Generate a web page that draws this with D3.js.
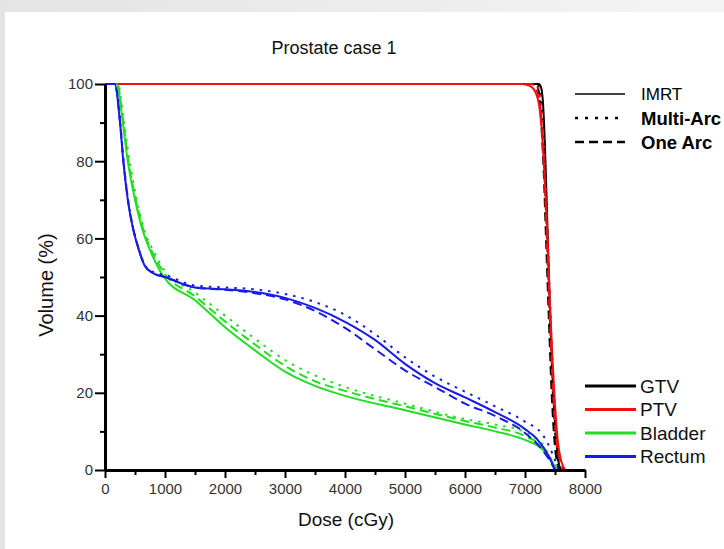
<!DOCTYPE html>
<html>
<head>
<meta charset="utf-8">
<script src="https://cdn.jsdelivr.net/npm/d3@7"></script>
<style>
  body { margin: 0; background: #fff; }
  text { font-family: "Liberation Sans", Arial, sans-serif; }
</style>
</head>
<body>
<script>
const W = 724;
const H = 549;
const PLOT = { left: 105, right: 585, top: 84, bottom: 470 };

// dose (cGy), volume (%)
const gtvImrt = [[0, 100], [7230, 100], [7270, 99], [7300, 95], [7330, 85], [7370, 65], [7420, 40], [7470, 20], [7520, 8], [7560, 2], [7600, 0]];
const gtvMulti = [[0, 100], [7200, 100], [7250, 98], [7290, 92], [7330, 80], [7370, 62], [7420, 38], [7470, 18], [7520, 6], [7570, 1], [7610, 0]];
const gtvOne = [[0, 100], [7180, 100], [7230, 98], [7270, 90], [7310, 78], [7350, 60], [7400, 38], [7450, 18], [7500, 6], [7550, 1], [7590, 0]];

const ptvImrt = [[0, 100], [6950, 100], [7080, 99.5], [7170, 98], [7240, 94], [7290, 86], [7330, 75], [7370, 62], [7410, 45], [7460, 28], [7500, 17], [7550, 7], [7610, 2], [7670, 0]];
const ptvMulti = [[0, 100], [7150, 100], [7220, 99], [7270, 95], [7310, 86], [7350, 72], [7390, 55], [7440, 35], [7490, 18], [7540, 7], [7600, 2], [7650, 0]];
const ptvOne = [[0, 100], [7100, 100], [7190, 98.5], [7250, 94], [7300, 84], [7340, 70], [7380, 53], [7430, 33], [7480, 17], [7530, 7], [7590, 2], [7640, 0]];

const bladderImrt = [[0, 100], [200, 100], [280, 92], [380, 80], [500, 70], [650, 61], [750, 57], [980, 50], [1500, 44], [2000, 37], [2500, 31], [3000, 25.5], [3500, 21.8], [4000, 19.2], [5000, 15.5], [6000, 11.8], [6500, 10], [7000, 7.8], [7300, 5.2], [7450, 2], [7530, 0]];
const bladderMulti = [[0, 100], [215, 100], [300, 92], [400, 81], [530, 70], [680, 61], [800, 57], [1000, 51.5], [1500, 46], [2000, 40], [2500, 34], [3000, 28.5], [3500, 24.5], [4000, 21.5], [5000, 17.2], [6000, 13.2], [6500, 11.8], [7000, 9.8], [7300, 6.5], [7450, 2.5], [7560, 0]];
const bladderOne = [[0, 100], [205, 100], [290, 92], [390, 80], [515, 70], [665, 61], [770, 57], [990, 51], [1500, 45], [2000, 38.5], [2500, 32.5], [3000, 27], [3500, 23], [4000, 20.5], [5000, 16.5], [6000, 12.7], [6500, 11], [7000, 8.8], [7300, 5.8], [7450, 2.2], [7540, 0]];

const rectumImrt = [[0, 100], [160, 100], [250, 90], [305, 80], [380, 70], [460, 63], [545, 58], [660, 53], [800, 51], [1000, 50], [1500, 47.3], [2000, 46.8], [2500, 46.1], [3000, 44.6], [3500, 42], [4000, 38.4], [4500, 33.7], [5000, 27.5], [5500, 22.5], [6000, 18.8], [6500, 15], [7000, 10.6], [7200, 8], [7400, 3.5], [7500, 0]];
const rectumMulti = [[0, 100], [170, 100], [255, 90], [310, 80], [385, 70], [465, 63], [550, 58], [665, 53], [800, 51.3], [1000, 50.5], [1500, 47.8], [2000, 47.3], [2500, 46.8], [3000, 45.6], [3500, 43.5], [4000, 40.2], [4500, 35.2], [5000, 29.2], [5500, 24.2], [6000, 20.3], [6500, 16.5], [7000, 12.5], [7300, 9], [7450, 4.5], [7560, 0]];
const rectumOne = [[0, 100], [165, 100], [252, 90], [307, 80], [382, 70], [462, 63], [547, 58], [662, 53], [800, 51], [1000, 50], [1500, 47.3], [2000, 46.7], [2500, 45.8], [3000, 44.2], [3500, 41.2], [4000, 36.8], [4500, 31.3], [5000, 25.8], [5500, 21.5], [6000, 17.2], [6500, 14], [7000, 9.6], [7300, 5], [7450, 1.5], [7500, 0]];

const xTicks = [0, 1000, 2000, 3000, 4000, 5000, 6000, 7000, 8000];
const yTicks = [0, 20, 40, 60, 80, 100];

const structures = ["GTV", "PTV", "Bladder", "Rectum"];
const structureColors = ["#000000", "#f01010", "#22dd22", "#1a1ae6"];
const plans = ["IMRT", "Multi-Arc", "One Arc"];
const planDash = [null, "2.5,6", "9,5"];

const curves = [
  { s: 0, p: 2, data: gtvOne },
  { s: 0, p: 1, data: gtvMulti },
  { s: 0, p: 0, data: gtvImrt },
  { s: 1, p: 2, data: ptvOne },
  { s: 1, p: 1, data: ptvMulti },
  { s: 1, p: 0, data: ptvImrt },
  { s: 2, p: 2, data: bladderOne },
  { s: 2, p: 1, data: bladderMulti },
  { s: 2, p: 0, data: bladderImrt },
  { s: 3, p: 2, data: rectumOne },
  { s: 3, p: 1, data: rectumMulti },
  { s: 3, p: 0, data: rectumImrt }
];

const svg = d3.select("body").append("svg")
  .attr("width", W)
  .attr("height", H);

// slide frame
const grad = svg.append("defs").append("linearGradient")
  .attr("id", "frame").attr("x1", 0).attr("y1", 0).attr("x2", 1).attr("y2", 0);
grad.append("stop").attr("offset", "0%").attr("stop-color", "#e4e4e4");
grad.append("stop").attr("offset", "100%").attr("stop-color", "#f4f4f4");
svg.append("rect").attr("width", W).attr("height", H).attr("fill", "url(#frame)");
svg.append("rect").attr("x", 5).attr("y", 12).attr("width", W - 5).attr("height", H - 12).attr("fill", "#fff");

const x = d3.scaleLinear().domain([0, 8000]).range([PLOT.left, PLOT.right]);
const y = d3.scaleLinear().domain([0, 100]).range([PLOT.bottom, PLOT.top]);

const line = d3.line()
  .x(d => x(d[0]))
  .y(d => y(d[1]))
  .curve(d3.curveMonotoneX);

svg.append("g")
  .selectAll("path")
  .data(curves)
  .join("path")
  .attr("d", d => line(d.data))
  .attr("fill", "none")
  .attr("stroke", d => structureColors[d.s])
  .attr("stroke-width", 2)
  .attr("stroke-dasharray", d => planDash[d.p]);

// axes
const xAxis = svg.append("g")
  .attr("transform", "translate(0," + PLOT.bottom + ")")
  .call(d3.axisBottom(x)
    .tickValues(d3.range(0, 8001, 500))
    .tickSize(8)
    .tickSizeOuter(0)
    .tickFormat(d => xTicks.includes(d) ? d : ""));

const yAxis = svg.append("g")
  .attr("transform", "translate(" + PLOT.left + ",0)")
  .call(d3.axisLeft(y)
    .tickValues(d3.range(0, 101, 10))
    .tickSize(10)
    .tickSizeOuter(0)
    .tickFormat(d => yTicks.includes(d) ? d : ""));

xAxis.selectAll(".tick line").attr("y2", d => xTicks.includes(d) ? 8 : 5);
yAxis.selectAll(".tick line").attr("x2", d => yTicks.includes(d) ? -10 : -5);

[xAxis, yAxis].forEach(g => {
  g.select(".domain").attr("stroke", "#000").attr("stroke-width", 3);
  g.selectAll(".tick line").attr("stroke", "#000").attr("stroke-width", 2);
  g.selectAll(".tick text")
    .attr("fill", "#333")
    .style("font-family", "'Liberation Sans', Arial, sans-serif")
    .style("font-size", "15px");
});
xAxis.selectAll(".tick text").attr("y", 13).attr("dy", "0.71em");
yAxis.selectAll(".tick text").attr("x", -12);

svg.append("text")
  .attr("x", 334).attr("y", 54)
  .attr("text-anchor", "middle")
  .attr("font-size", 18)
  .attr("fill", "#111")
  .text("Prostate case 1");

svg.append("text")
  .attr("x", 346).attr("y", 526)
  .attr("text-anchor", "middle")
  .attr("font-size", 19)
  .attr("fill", "#111")
  .text("Dose (cGy)");

svg.append("text")
  .attr("transform", "translate(53,285) rotate(-90)")
  .attr("text-anchor", "middle")
  .attr("font-size", 20)
  .attr("fill", "#111")
  .text("Volume (%)");

// plan legend
const planLegend = svg.append("g")
  .selectAll("g")
  .data(plans)
  .join("g")
  .attr("transform", (d, i) => "translate(575," + (94 + i * 24) + ")");
planLegend.append("line")
  .attr("x1", 0).attr("x2", 50)
  .attr("stroke", "#000")
  .attr("stroke-width", (d, i) => i === 0 ? 1.5 : 2.5)
  .attr("stroke-dasharray", (d, i) => i === 1 ? "3,7" : planDash[i]);
planLegend.append("text")
  .attr("x", 66).attr("dy", "0.36em")
  .attr("font-size", (d, i) => i === 0 ? 17 : 18.5)
  .attr("font-weight", (d, i) => i === 0 ? "normal" : "bold")
  .attr("fill", "#000")
  .text(d => d);

// structure legend
const structLegend = svg.append("g")
  .selectAll("g")
  .data(structures)
  .join("g")
  .attr("transform", (d, i) => "translate(585," + (386 + i * 23.5) + ")");
structLegend.append("line")
  .attr("x1", 0).attr("x2", 51)
  .attr("stroke", (d, i) => structureColors[i])
  .attr("stroke-width", 3);
structLegend.append("text")
  .attr("x", 55).attr("dy", "0.36em")
  .attr("font-size", 19)
  .attr("fill", "#111")
  .text(d => d);
</script>
</body>
</html>
